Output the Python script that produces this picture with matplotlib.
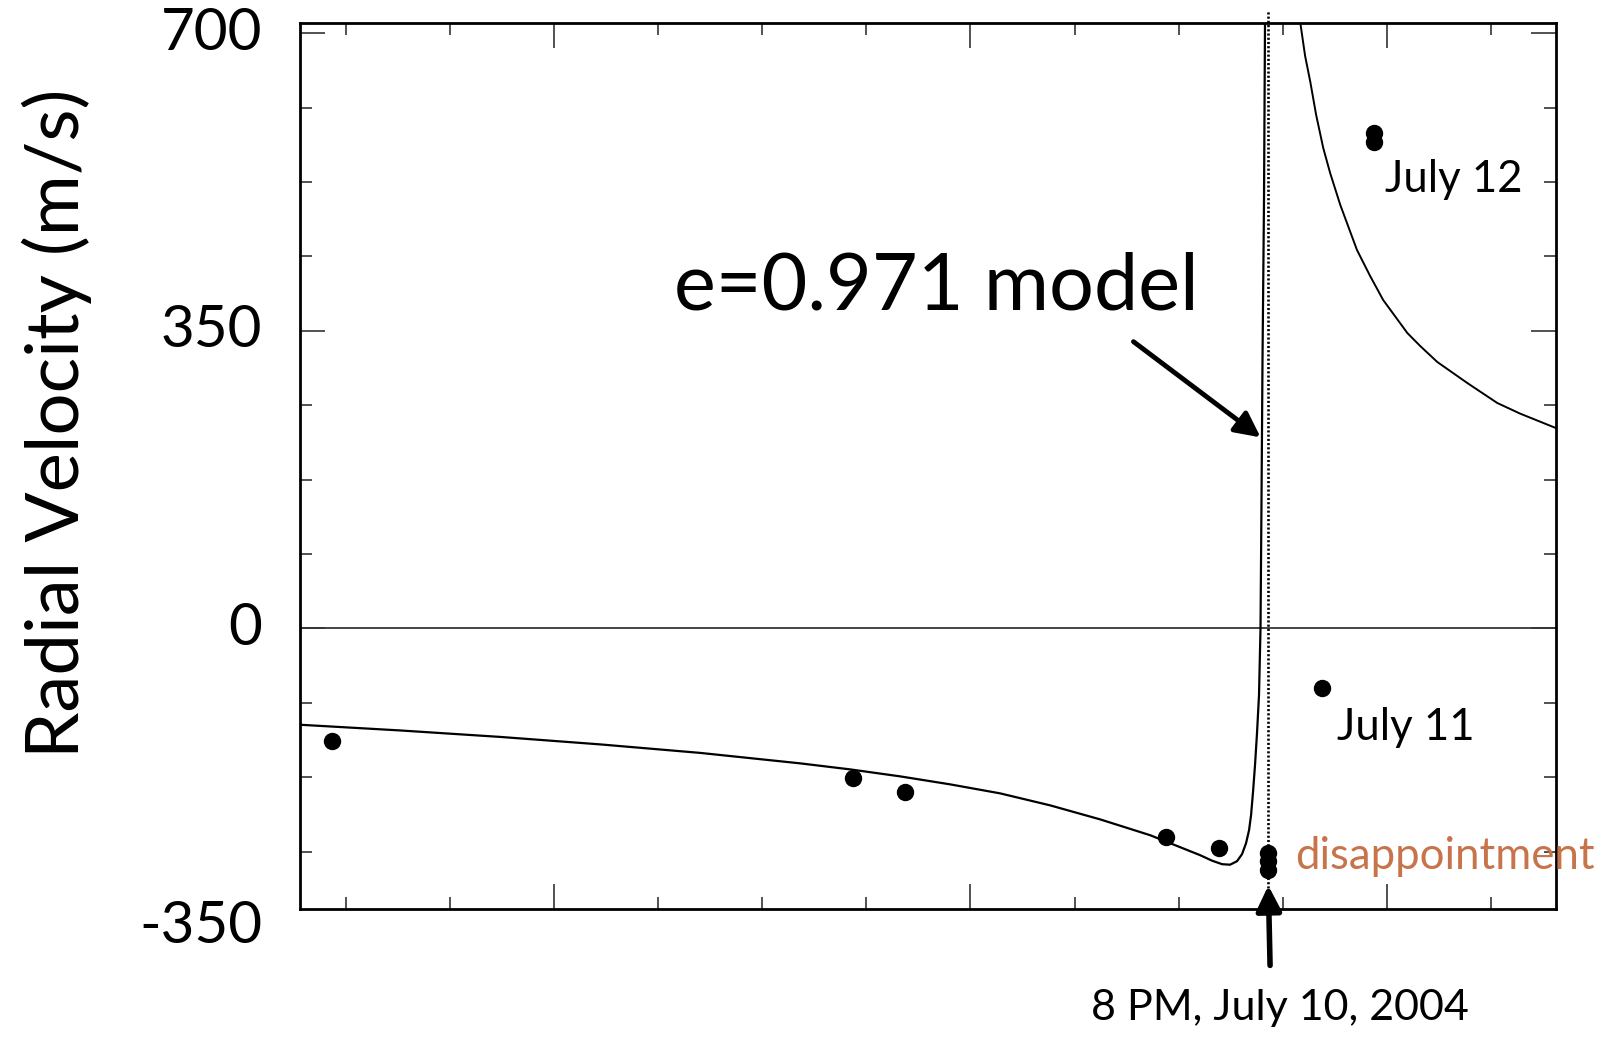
import matplotlib
matplotlib.use("Agg")
import matplotlib.pyplot as plt
from matplotlib.ticker import MultipleLocator
import matplotlib.transforms as mtransforms

plt.rcParams["font.family"] = ["Lato", "DejaVu Sans"]

# model curve (x in arbitrary time units, y in m/s)
model_left_x = [0.3900, 0.6302, 0.8703, 1.1105, 1.3506, 1.5908, 1.7109, 1.8309, 1.9510,
                2.0711, 2.1912, 2.3113, 2.4313, 2.5034, 2.5514, 2.5802, 2.6042, 2.6234,
                2.6400, 2.6520, 2.6617, 2.6689, 2.6737, 2.6784, 2.6832, 2.6880, 2.6928,
                2.6964, 2.6988, 2.7012, 2.7048, 2.7072]
model_left_y = [-113.3, -120.0, -127.6, -136.4, -146.4, -158.7, -165.8, -174.0, -183.4,
                -194.0, -208.1, -224.6, -243.2, -257.3, -266.7, -273.2, -277.3, -277.9,
                -273.8, -265.5, -252.6, -237.3, -219.6, -192.6, -160.8, -123.2, -78.5,
                0.0, 151.0, 315.6, 503.9, 712.1]
model_right_x = [2.792, 2.8035, 2.816, 2.830, 2.847, 2.8636, 2.888, 2.928, 2.9597, 2.991,
                 3.049, 3.0797, 3.121, 3.193, 3.265, 3.3199, 3.406]
model_right_y = [712.1, 673.3, 642.7, 603.9, 565.1, 535.6, 498.0, 445.1, 414.4, 386.2,
                 347.4, 332.2, 313.3, 288.6, 265.1, 252.6, 235.6]

# observed radial velocities
obs_x = [0.466, 1.717, 1.842, 2.470, 2.596, 2.715, 2.715, 2.715, 2.844, 2.968, 2.968]
obs_y = [-132.2, -176.5, -192.2, -245.2, -258.8, -263.9, -273.9, -283.6, -70.6, 582.4, 572.5]

ytick_values = [-350, 0, 350, 700]
ytick_labels = ["-350", "0", "350", "700"]

transit_x = 2.715

fig = plt.figure(figsize=(16.01, 10.41), dpi=100)
ax = fig.add_axes([0.1874, 0.1268, 0.7845, 0.8511])

ax.set_xlim(0.390, 3.406)
ax.set_ylim(-330, 712)

ax.axhline(0, color="#444444", lw=1.4, zorder=1)
ax.plot(model_left_x, model_left_y, color="black", lw=1.6, zorder=2)
ax.plot(model_right_x, model_right_y, color="black", lw=1.4, zorder=2)
ax.plot(obs_x, obs_y, "o", color="black", ms=11.5, zorder=3)

# dotted line marking the predicted transit
ax.plot([transit_x, transit_x], [-305, 727], color="black", lw=1.9,
        linestyle=(0, (0.8, 0.8)), clip_on=False, zorder=2)

for side in ax.spines.values():
    side.set_linewidth(2)
ax.xaxis.set_major_locator(MultipleLocator(1))
ax.xaxis.set_minor_locator(MultipleLocator(0.25))
ax.yaxis.set_major_locator(MultipleLocator(350))
ax.yaxis.set_minor_locator(MultipleLocator(87.5))
ax.tick_params(which="both", direction="in", top=True, right=True,
               labelbottom=False, labelleft=False, color="#333333", width=1.2)
ax.tick_params(which="major", length=18)
ax.tick_params(which="minor", length=8.5)

blend = mtransforms.blended_transform_factory(ax.transAxes, ax.transData)
for val, lab in zip(ytick_values, ytick_labels):
    ax.text(-0.030, val, lab, transform=blend, ha="right", va="center",
            fontsize=42, clip_on=False)

fig.text(0.0356, 0.593, "Radial Velocity (m/s)", rotation=90, ha="center",
         va="center", fontsize=53.5)

ax.text(1.288, 375.6, "e=0.971 model", fontsize=57, ha="left", va="baseline")
ax.annotate("", xy=(2.702, 222.7), xytext=(2.386, 339.2),
            arrowprops=dict(arrowstyle="-|>", lw=3.5, color="black", mutation_scale=38))

ax.text(2.996, 513.6, "July 12", fontsize=31.5, ha="left", va="baseline")
ax.text(2.880, -131.4, "July 11", fontsize=31.5, ha="left", va="baseline")
ax.text(2.779, -282.4, "disappointment", fontsize=31.5, ha="left", va="baseline",
        color="#C8744A", clip_on=False)

ax.annotate("", xy=(2.715, -299.2), xytext=(2.7195, -399.6),
            arrowprops=dict(arrowstyle="-|>", lw=4, color="black", mutation_scale=38),
            annotation_clip=False)
ax.text(2.743, -460.8, "8 PM, July 10, 2004", fontsize=31, ha="center",
        va="baseline", clip_on=False)

fig.savefig("out.png", dpi=100)
